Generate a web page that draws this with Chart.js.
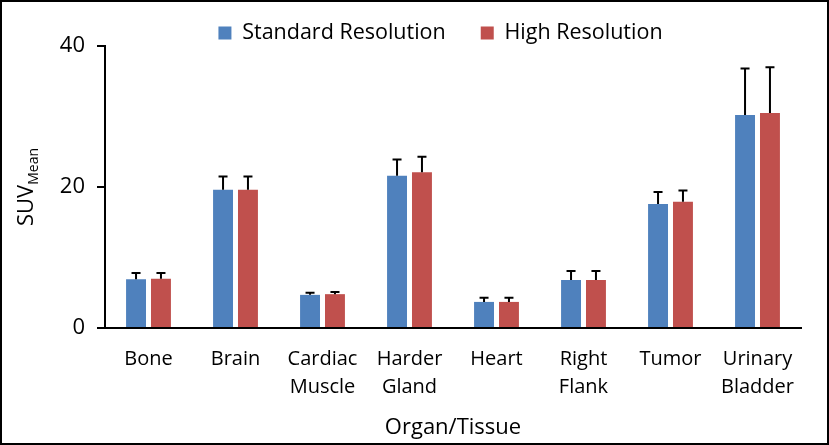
<!DOCTYPE html>
<html>
<head>
<meta charset="utf-8">
<script src="https://cdn.jsdelivr.net/npm/chart.js@4"></script>
<style>
  html, body { margin: 0; padding: 0; background: #fff; }
  #wrap { width: 829px; height: 445px; box-sizing: border-box; border: 2px solid #000; }
  #chart { display: block; }
</style>
</head>
<body>
<div id="wrap"><canvas id="chart" width="825" height="441"></canvas></div>
<script>
// organes / tissus
const organs = [['Bone'], ['Brain'], ['Cardiac', 'Muscle'], ['Harder', 'Gland'], ['Heart'], ['Right', 'Flank'], ['Tumor'], ['Urinary', 'Bladder']];

// SUV mean
const standardRes = [6.9, 19.6, 4.7, 21.6, 3.7, 6.8, 17.6, 30.2];
const highRes     = [7.0, 19.6, 4.8, 22.1, 3.7, 6.8, 17.9, 30.5];

// écart-type (barre d'erreur vers le haut seulement)
const standardSD = [0.9, 1.9, 0.3, 2.3, 0.6, 1.3, 1.7, 6.6];
const highSD     = [0.8, 1.9, 0.3, 2.2, 0.6, 1.3, 1.6, 6.5];

const yTicks = [0, 20, 40];

const FONT = '"Open Sans", "DejaVu Sans", sans-serif';
const LEGEND_SIZE = 21.5;
const LEGEND_PAD = 35;

// dessine les barres d'erreur
const errorBars = {
  id: 'errorBars',
  afterDatasetsDraw(chart) {
    const ctx = chart.ctx;
    const yScale = chart.scales.y;
    chart.data.datasets.forEach((ds, i) => {
      const meta = chart.getDatasetMeta(i);
      meta.data.forEach((bar, j) => {
        const top = yScale.getPixelForValue(ds.data[j] + ds.errors[j]);
        ctx.save();
        ctx.strokeStyle = '#000';
        ctx.lineWidth = 2;
        ctx.beginPath();
        ctx.moveTo(bar.x, bar.y);
        ctx.lineTo(bar.x, top);
        ctx.moveTo(bar.x - 4.5, top);
        ctx.lineTo(bar.x + 4.5, top);
        ctx.stroke();
        ctx.restore();
      });
    });
  }
};

// légende : hauteur fixe et position comme sur l'original
const legendPlace = {
  id: 'legendPlace',
  afterInit(chart) {
    const lg = chart.legend;
    const fit = lg.fit;
    lg.fit = function () { fit.call(this); this.height = 44; };
  },
  afterLayout(chart) {
    const lg = chart.legend;
    lg.top = 31 - LEGEND_PAD - LEGEND_SIZE / 2;
    lg.height = 80;
    lg.bottom = lg.top + lg.height;
    lg.left += 39;
    lg.right += 39;
  }
};

// titre de l'axe y avec indice
const yTitle = {
  id: 'yTitle',
  afterDraw(chart) {
    const ctx = chart.ctx;
    const area = chart.chartArea;
    ctx.save();
    ctx.translate(31, (area.top + area.bottom) / 2);
    ctx.rotate(-Math.PI / 2);
    ctx.fillStyle = '#000';
    ctx.textBaseline = 'alphabetic';
    ctx.font = '22px ' + FONT;
    const w1 = ctx.measureText('SUV').width;
    ctx.font = '14px ' + FONT;
    const w2 = ctx.measureText('Mean').width;
    const start = -(w1 + w2) / 2;
    ctx.font = '22px ' + FONT;
    ctx.fillText('SUV', start, 0);
    ctx.font = '14px ' + FONT;
    ctx.fillText('Mean', start + w1, 5);
    ctx.restore();
  }
};

new Chart(document.getElementById('chart'), {
  type: 'bar',
  data: {
    labels: organs,
    datasets: [
      { label: 'Standard Resolution', data: standardRes, errors: standardSD, backgroundColor: '#4F81BD' },
      { label: 'High Resolution', data: highRes, errors: highSD, backgroundColor: '#C0504D' }
    ]
  },
  options: {
    responsive: false,
    animation: false,
    categoryPercentage: 0.573,
    barPercentage: 0.8,
    layout: { padding: { top: 0, right: 26, left: 0, bottom: 2 } },
    plugins: {
      legend: {
        position: 'top',
        labels: {
          color: '#000',
          font: { family: FONT, size: LEGEND_SIZE },
          boxWidth: 13,
          boxHeight: 13,
          padding: LEGEND_PAD
        }
      },
      tooltip: { enabled: false }
    },
    scales: {
      x: {
        grid: { display: false },
        border: { color: '#000', width: 2 },
        ticks: { color: '#000', font: { family: FONT, size: 20, lineHeight: 1.4 }, padding: 9.5, maxRotation: 0, autoSkip: false },
        title: { display: true, text: 'Organ/Tissue', color: '#000', font: { family: FONT, size: 22 }, padding: { top: 3.6, bottom: 0 } }
      },
      y: {
        min: 0,
        max: 40,
        afterBuildTicks: (axis) => { axis.ticks = yTicks.map(v => ({ value: v })); },
        afterFit: (axis) => { axis.width = 103; },
        grid: { drawOnChartArea: false, drawTicks: true, tickLength: 8, color: '#000', lineWidth: 2 },
        border: { color: '#000', width: 2 },
        ticks: { color: '#000', font: { family: FONT, size: 22 }, padding: 12 }
      }
    }
  },
  plugins: [errorBars, legendPlace, yTitle]
});
</script>
</body>
</html>
